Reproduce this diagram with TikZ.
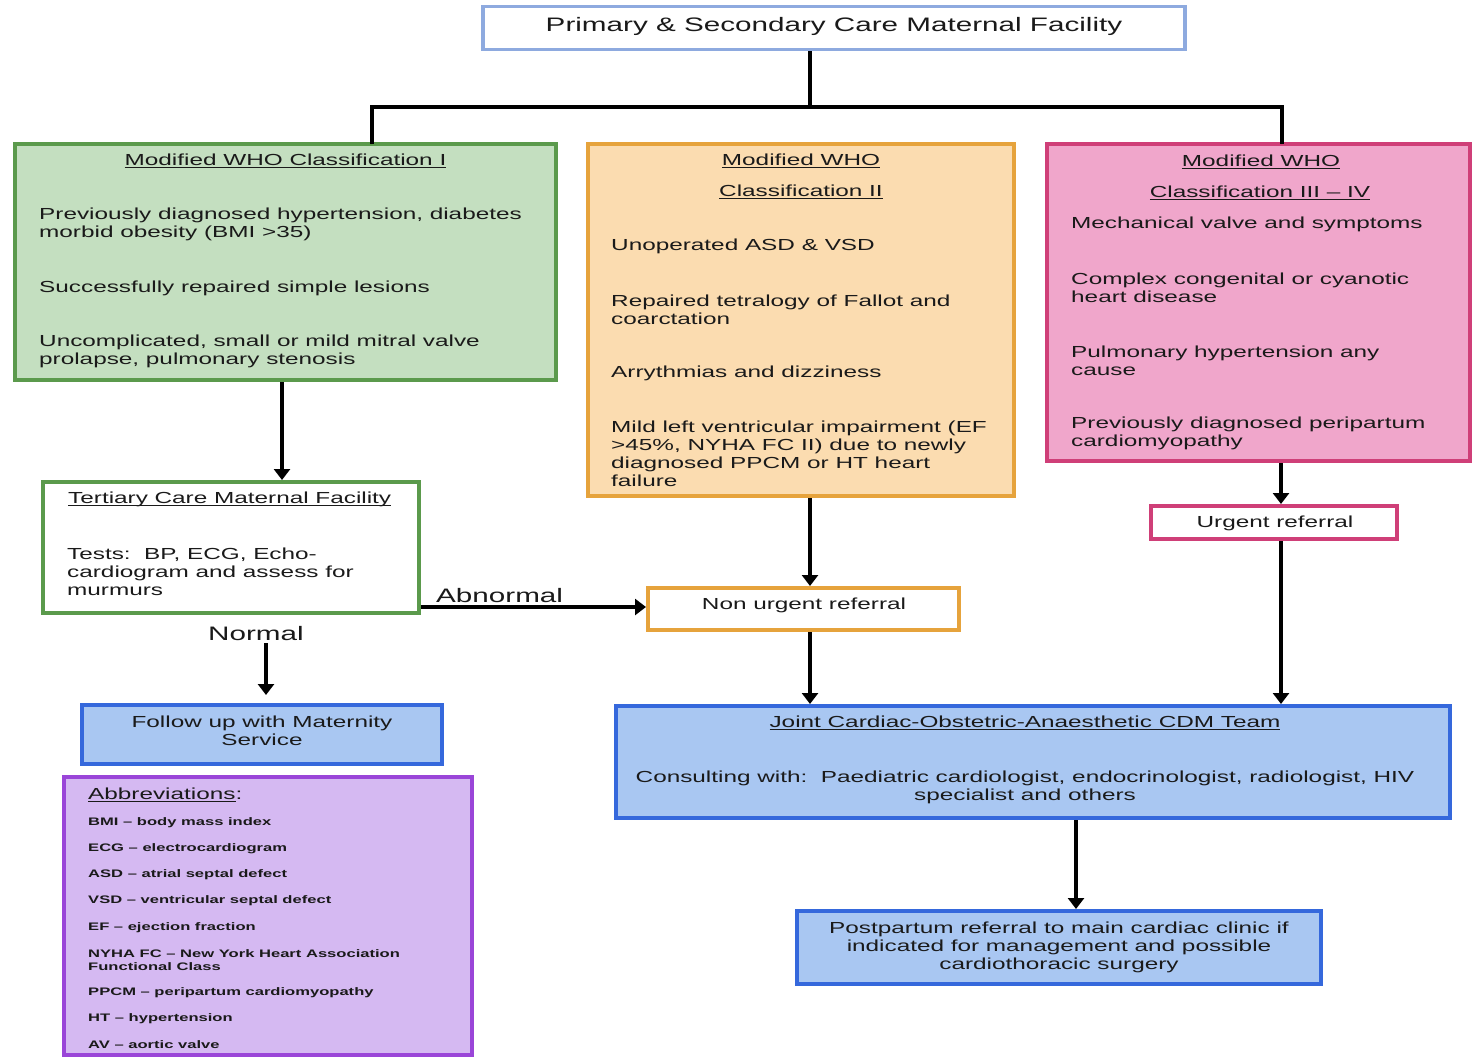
\documentclass[tikz,border=0pt]{standalone}
\usepackage{fontspec}
\setmainfont{Liberation Sans}[FakeStretch=1.52]
\newsavebox{\ulbox}
\newcommand{\ulx}[1]{\sbox{\ulbox}{#1}\rlap{\rule[-2.5pt]{\wd\ulbox}{1.1pt}}\usebox{\ulbox}}
\usetikzlibrary{arrows.meta}
\definecolor{txtc}{HTML}{1A1A1A}
\definecolor{topb}{HTML}{8EAADF}
\definecolor{grnf}{HTML}{C4DFC0}
\definecolor{grnb}{HTML}{5B9A4C}
\definecolor{orgf}{HTML}{FBDCB0}
\definecolor{orgb}{HTML}{E6A33C}
\definecolor{pnkf}{HTML}{F0A6CB}
\definecolor{pnkb}{HTML}{CF3F78}
\definecolor{bluf}{HTML}{A9C7F2}
\definecolor{blub}{HTML}{3568DC}
\definecolor{purf}{HTML}{D5B9F2}
\definecolor{purb}{HTML}{9A45D8}
\newcommand{\bodyf}{\fontsize{16}{18}\selectfont}
\newcommand{\bigf}{\fontsize{19.5}{22}\selectfont}
\newcommand{\abbf}{\fontsize{10.9}{13}\selectfont\bfseries}
\begin{document}
\begin{tikzpicture}[x=1pt,y=-1pt,
  boxx/.style={draw, rectangle, inner sep=0pt, line width=4pt},
  txt/.style={inner sep=0pt, anchor=west, align=left, font=\bodyf, text=txtc, yshift=-2pt},
  ctxt/.style={inner sep=0pt, anchor=center, align=center, font=\bodyf, text=txtc, yshift=-2pt},
  abb/.style={inner sep=0pt, anchor=west, align=left, font=\abbf, text=txtc, yshift=-1.5pt},
  lab/.style={inner sep=0pt, anchor=west, font=\bigf, text=txtc, yshift=-2pt},
  ln/.style={line width=4.5pt, black},
  arr/.style={line width=4.5pt, black, -{Triangle[width=16pt,length=11pt]}}]
\useasboundingbox (0,0) rectangle (1474,1057);
\fill[white] (0,0) rectangle (1474,1057);

% boxes
\node[boxx, draw=topb, fill=white, line width=3.5pt, minimum width=702pt, minimum height=43pt] (top) at (834,28) {};
\node[boxx, draw=grnb, fill=grnf, minimum width=541pt, minimum height=236pt] (green) at (285.5,262) {};
\node[boxx, draw=orgb, fill=orgf, minimum width=426pt, minimum height=352pt] (orange) at (801,320) {};
\node[boxx, draw=pnkb, fill=pnkf, minimum width=423pt, minimum height=317pt] (pink) at (1258.5,302.5) {};
\node[boxx, draw=grnb, fill=white, minimum width=376pt, minimum height=131pt] (tert) at (231,547.5) {};
\node[boxx, draw=orgb, fill=white, minimum width=311pt, minimum height=42pt] (nonurg) at (803.5,609) {};
\node[boxx, draw=pnkb, fill=white, minimum width=246pt, minimum height=33pt] (urgent) at (1274,522.5) {};
\node[boxx, draw=blub, fill=bluf, minimum width=360pt, minimum height=59pt] (follow) at (262,734.5) {};
\node[boxx, draw=blub, fill=bluf, minimum width=834pt, minimum height=112pt] (joint) at (1033,762) {};
\node[boxx, draw=blub, fill=bluf, minimum width=524pt, minimum height=73pt] (post) at (1059,947.5) {};
\node[boxx, draw=purb, fill=purf, minimum width=408pt, minimum height=278pt] (abbr) at (268,916) {};

% top text
\node[ctxt, font=\bigf] (toptxt) at (834,24) {Primary \& Secondary Care Maternal Facility};

% green text
\node[ctxt] (g0) at (285.5,159) {\ulx{Modified WHO Classification I}};
\node[txt] (g1) at (39,222) {Previously diagnosed hypertension, diabetes\\morbid obesity (BMI >35)};
\node[txt] (g2) at (39,286) {Successfully repaired simple lesions};
\node[txt] (g3) at (39,349) {Uncomplicated, small or mild mitral valve\\prolapse, pulmonary stenosis};

% orange text
\node[ctxt] (o0a) at (801,159) {\ulx{Modified WHO}};
\node[ctxt] (o0b) at (801,190) {\ulx{Classification II}};
\node[txt] (o1) at (611,244) {Unoperated ASD \& VSD};
\node[txt] (o2) at (611,308) {Repaired tetralogy of Fallot and\\coarctation};
\node[txt] (o3) at (611,371) {Arrythmias and dizziness};
\node[txt] (o4) at (611,452) {Mild left ventricular impairment (EF\\>45\%, NYHA FC II) due to newly\\diagnosed PPCM or HT heart\\failure};

% pink text
\node[ctxt] (p0a) at (1261,160) {\ulx{Modified WHO}};
\node[ctxt] (p0b) at (1260,191) {\ulx{Classification III – IV}};
\node[txt] (p1) at (1071,222) {Mechanical valve and symptoms};
\node[txt] (p2) at (1071,286) {Complex congenital or cyanotic\\heart disease};
\node[txt] (p3) at (1071,359) {Pulmonary hypertension any\\cause};
\node[txt] (p4) at (1071,431) {Previously diagnosed peripartum\\cardiomyopathy};

% tertiary text
\node[txt] (t0) at (68,497) {\ulx{Tertiary Care Maternal Facility}};
\node[txt] (t1) at (67,570) {Tests:\ \ BP, ECG, Echo-\\cardiogram and assess for\\murmurs};

% labels
\node[lab] (abn) at (436,594) {Abnormal};
\node[lab] (nrm) at (208,632) {Normal};

\node[ctxt] (nutxt) at (804,603) {Non urgent referral};
\node[ctxt] (urtxt) at (1275,521) {Urgent referral};
\node[ctxt] (futxt) at (262,729) {Follow up with Maternity\\Service};
\node[ctxt] (j0) at (1025,721) {\ulx{Joint Cardiac-Obstetric-Anaesthetic CDM Team}};
\node[ctxt] (j1) at (1025,785) {Consulting with:\ \ Paediatric cardiologist, endocrinologist, radiologist, HIV\\specialist and others};
\node[ctxt] (pp) at (1059,945) {Postpartum referral to main cardiac clinic if\\indicated for management and possible\\cardiothoracic surgery};

% abbreviations
\node[txt] (a0) at (88,793) {\ulx{Abbreviations}:};
\node[abb] (a1) at (88,821) {BMI – body mass index};
\node[abb] (a2) at (88,847) {ECG – electrocardiogram};
\node[abb] (a3) at (88,873) {ASD – atrial septal defect};
\node[abb] (a4) at (88,899) {VSD – ventricular septal defect};
\node[abb] (a5) at (88,926) {EF – ejection fraction};
\node[abb] (a6) at (88,958.5) {NYHA FC – New York Heart Association\\Functional Class};
\node[abb] (a7) at (88,991) {PPCM – peripartum cardiomyopathy};
\node[abb] (a8) at (88,1017) {HT – hypertension};
\node[abb] (a9) at (88,1043) {AV – aortic valve};

% connectors
\coordinate (jc) at (810,107);
\coordinate (jl) at (372,107);
\coordinate (jr) at (1282,107);
\draw[ln] (top.south -| jc) -- (jc);
\draw[ln, line cap=rect] (green.north -| jl) -- (jl) -- (jr) -- (pink.north -| jr);

\coordinate (xg) at (282,0);
\coordinate (xo) at (810,0);
\coordinate (xp) at (1281,0);
\coordinate (xn) at (266,0);
\coordinate (xj) at (1076,0);
\coordinate (ya) at (0,607);
\draw[arr] (green.south -| xg) -- (tert.north -| xg);
\draw[arr] (tert.east |- ya) -- (nonurg.west |- ya);
\draw[arr] (orange.south -| xo) -- (nonurg.north -| xo);
\draw[arr] (pink.south -| xp) -- (urgent.north -| xp);
\draw[arr, shorten >=8pt] ([yshift=-2pt]nrm.south -| xn) -- (follow.north -| xn);
\draw[arr] (nonurg.south -| xo) -- (joint.north -| xo);
\draw[arr] (urgent.south -| xp) -- (joint.north -| xp);
\draw[arr] (joint.south -| xj) -- (post.north -| xj);
\end{tikzpicture}
\end{document}
